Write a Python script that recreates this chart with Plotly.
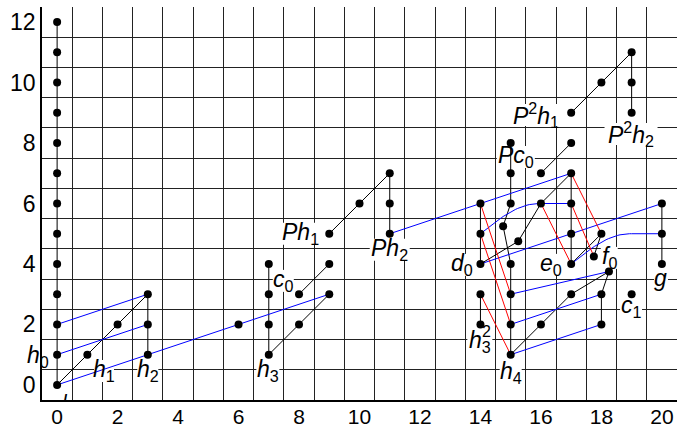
import numpy as np
import plotly.graph_objects as go

# ---- data: Adams chart (stem, filtration) ----
dot_stem = [0]*13 + [1, 2, 3, 3, 3, 6, 7, 7, 7, 7, 8, 8, 9, 9, 9, 10, 11, 11, 11,
            14, 14, 14, 14, 14,
            15, 15, 15, 15, 14.75, 15.25, 15, 15, 15,
            16, 16, 16,
            17, 17, 17, 17, 17, 17, 17,
            18, 18, 18.25, 17.75, 18, 18,
            19, 19, 19, 19,
            20, 20, 20]
dot_filt = list(range(13)) + [1, 2, 1, 2, 3, 2, 1, 2, 3, 4, 2, 3, 3, 4, 5, 6, 5, 6, 7,
            2, 3, 4, 5, 6,
            1, 2, 3, 4, 5.25, 4.75, 6, 7, 8,
            2, 6, 7,
            3, 4, 5, 6, 7, 8, 9,
            2, 3, 3.75, 4.25, 5, 10,
            3, 9, 10, 11,
            4, 5, 6]

# black connecting paths (lists of (stem, filtration))
black_paths = [
    [(0, 0), (0, 12)],
    [(0, 0), (3, 3)],
    [(3, 1), (3, 3)],
    [(7, 1), (7, 4)],
    [(7, 1), (9, 3)],
    [(8, 3), (9, 4)],
    [(9, 5), (11, 7)],
    [(11, 5), (11, 7)],
    [(14, 2), (14, 3)],
    [(14, 4), (14, 6)],
    [(15, 1), (15, 4), (14.75, 5.25), (15, 6), (15, 8)],
    [(14, 4), (15.25, 4.75), (16, 6), (17, 7)],
    [(16, 7), (17, 8)],
    [(17, 4), (17, 7)],
    [(15, 1), (17, 3), (18.25, 3.75)],
    [(18, 2), (18, 3), (18.25, 3.75)],
    [(17, 4), (18, 5)],
    [(17.75, 4.25), (18, 5)],
    [(17, 9), (19, 11)],
    [(19, 9), (19, 11)],
    [(20, 4), (20, 6)],
]
blue_straight = [
    [(0, 0), (9, 3)],
    [(0, 1), (3, 2)],
    [(0, 2), (3, 3)],
    [(11, 5), (17, 7)],
    [(14, 4), (20, 6)],
    [(15, 1), (18, 2)],
    [(15, 2), (18, 3)],
    [(15, 3), (18.25, 3.75)],
]
blue_curved = [
    [(14, 5), (17, 6)],
    [(17, 4), (20, 5)],
]
red_lines = [
    [(14, 6), (15, 3)],
    [(14, 5), (15, 2)],
    [(14, 3), (15, 1)],
    [(16, 6), (17, 4)],
    [(17, 6), (17.75, 4.25)],
    [(17, 7), (18, 5)],
]

label_text = ["<i>h</i><sub>0</sub>", "<i>h</i><sub>1</sub>", "<i>h</i><sub>2</sub>",
              "<i>h</i><sub>3</sub>", "<i>c</i><sub>0</sub>", "<i>Ph</i><sub>1</sub>",
              "<i>Ph</i><sub>2</sub>", "<i>P</i><sup>2</sup><i>h</i><sub>1</sub>",
              "<i>P</i><sup>2</sup><i>h</i><sub>2</sub>", "<i>Pc</i><sub>0</sub>",
              "<i>d</i><sub>0</sub>", "<i>e</i><sub>0</sub>", "<i>f</i><sub>0</sub>",
              "<i>g</i>", "<i>c</i><sub>1</sub>", "<i>h</i><sub>3</sub>",
              "<i>h</i><sub>4</sub>"]
label_x = [-0.62, 1.55, 3.0, 6.97, 7.48, 8.06, 11.0, 15.83, 18.98, 15.17,
           13.38, 16.33, 18.26, 19.97, 18.98, 13.98, 15.0]
label_y = [0.93, 0.46, 0.46, 0.46, 3.44, 5.0, 4.47, 8.93, 8.3, 7.54,
           3.97, 3.97, 4.2, 3.54, 2.58, 1.42, 0.4]
# stacked superscript of h3^2
sq_text = "2"
sq_x, sq_y = 14.2, 1.75

x_ticks = list(range(0, 21, 2))
y_ticks = list(range(0, 13, 2))

FONT = "Liberation Sans, Arial, sans-serif"
# white backdrop size (px) behind each label
box_w = [23, 20, 21, 23, 21, 38, 40, 52, 53, 38, 23, 23, 17, 14, 22, 25, 22]
box_h = 22

# ---- build ----
def path_xy(paths):
    xs, ys = [], []
    for p in paths:
        for (a, b) in p:
            xs.append(a); ys.append(b)
        xs.append(None); ys.append(None)
    return xs, ys

def curve_xy(paths, n=40):
    xs, ys = [], []
    for (a0, b0), (a1, b1) in paths:
        t = np.linspace(0, 1, n)
        u = np.clip(t / 0.65, 0, 1)
        f = np.sin(np.pi / 2 * u)
        xs += list(a0 + (a1 - a0) * t) + [None]
        ys += list(b0 + (b1 - b0) * f) + [None]
    return xs, ys

fig = go.Figure()
bx, by = path_xy(black_paths)
fig.add_trace(go.Scatter(x=bx, y=by, mode="lines", line=dict(color="black", width=1),
                         hoverinfo="skip"))
ux, uy = path_xy(blue_straight)
cx, cy = curve_xy(blue_curved)
fig.add_trace(go.Scatter(x=ux + cx, y=uy + cy, mode="lines",
                         line=dict(color="#0000ff", width=1), hoverinfo="skip"))
rx, ry = path_xy(red_lines)
fig.add_trace(go.Scatter(x=rx, y=ry, mode="lines", line=dict(color="#ff0000", width=1),
                         hoverinfo="skip"))
fig.add_trace(go.Scatter(x=dot_stem, y=dot_filt, mode="markers",
                         marker=dict(color="black", size=8, line=dict(width=0))))
# iota below the unit class (clipped by the axis)
fig.add_trace(go.Scatter(x=[0.27], y=[-0.5], mode="text", text=["<i>ι</i>"],
                         textfont=dict(size=20, family=FONT, color="black"),
                         cliponaxis=True, hoverinfo="skip"))

for t, x, y, w in zip(label_text, label_x, label_y, box_w):
    xs = 0
    layer = "between"
    if x < -0.5:
        xs = (x + 0.45) * 30.24
        x = -0.45
        layer = "above"
    fig.add_shape(type="rect", xref="x", yref="y", xsizemode="pixel", ysizemode="pixel",
                  xanchor=x, yanchor=y, x0=xs - w / 2, x1=xs + w / 2,
                  y0=-box_h / 2, y1=box_h / 2, fillcolor="white",
                  line=dict(width=0), layer=layer)
    fig.add_annotation(x=x, y=y, text=t, showarrow=False, xanchor="center",
                       yanchor="middle", borderpad=0, xshift=xs,
                       font=dict(size=23, family=FONT, color="black"))
fig.add_annotation(x=sq_x, y=sq_y, text=sq_text, showarrow=False, xanchor="center",
                   yanchor="middle", borderpad=0,
                   font=dict(size=16, family=FONT, color="black"))

grid = dict(tick0=0.5, dtick=1, showgrid=True, gridcolor="#222222", gridwidth=1, ticks="")
fig.update_xaxes(range=[-0.5, 20.5], tickvals=x_ticks, ticktext=[str(v) for v in x_ticks],
                 showgrid=False, zeroline=False, showline=True, linecolor="black",
                 linewidth=1.5, ticks="", minor=grid, automargin=False,
                 ticklabelstandoff=-3,
                 tickfont=dict(size=21, family=FONT, color="black"))
fig.update_yaxes(range=[-0.5, 12.5], tickvals=y_ticks, ticktext=[str(v) for v in y_ticks],
                 showgrid=False, zeroline=False, showline=True, linecolor="black",
                 linewidth=1.5, ticks="", minor=grid, automargin=False,
                 tickfont=dict(size=23, family=FONT, color="black"))
fig.update_layout(width=677, height=425, margin=dict(l=42, r=0, t=7, b=25),
                  plot_bgcolor="white", paper_bgcolor="white", showlegend=False)
fig.write_html("out.html", config={"displayModeBar": False},
               post_script="document.body.style.margin='0';document.body.style.overflow='hidden';")
